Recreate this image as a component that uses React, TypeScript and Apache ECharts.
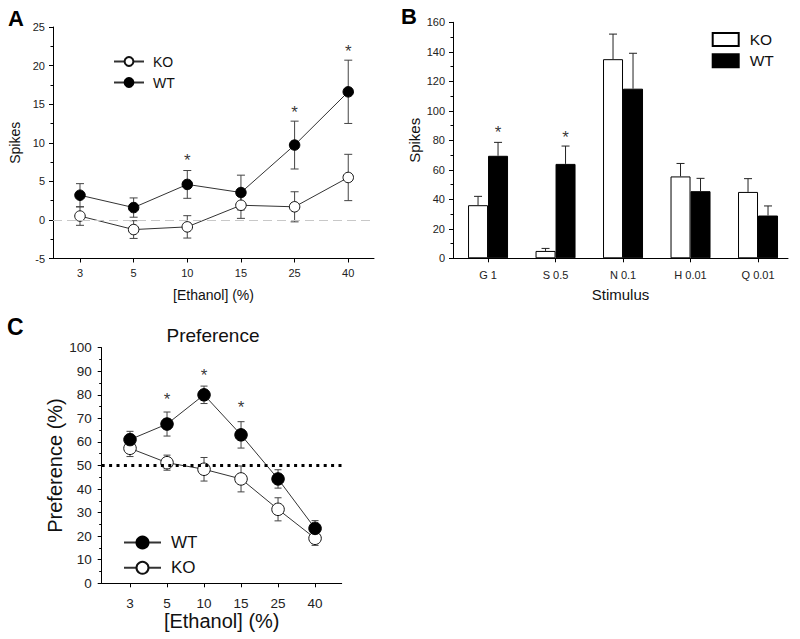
import React, { useEffect, useRef } from "react";
import * as echarts from "echarts";

// ---------- data ----------
const concentrations = ["3", "5", "10", "15", "25", "40"];

// Panel A: spikes vs ethanol
const koSpikes = [0.5, -1.25, -0.9, 1.9, 1.7, 5.5];
const koSpikesSem = [1.2, 1.15, 1.45, 1.7, 1.95, 3.0];
const wtSpikes = [3.2, 1.6, 4.6, 3.55, 9.7, 16.6];
const wtSpikesSem = [1.5, 1.25, 1.8, 2.25, 3.1, 4.1];
const starsAIdx = [2, 4, 5];
const starsAVal = [8.2, 14.5, 22.4];

// Panel B: spikes per stimulus
const stimuli = ["G 1", "S 0.5", "N 0.1", "H 0.01", "Q 0.01"];
const koStim = [36, 5, 135, 55.5, 45];
const koStimSem = [6, 1.7, 17, 8.8, 9];
const wtStim = [69.5, 64, 115, 45.5, 29];
const wtStimSem = [9.1, 12.1, 24, 8.7, 6.5];
const starsBIdx = [0, 1];
const starsBVal = [88, 84.5];

// Panel C: preference
const wtPref = [61, 67.6, 80, 63, 44.3, 23.3];
const wtPrefSem = [3.5, 5.1, 3.7, 5.6, 3.9, 3.3];
const koPref = [57.3, 51.2, 48.4, 44.3, 31.4, 19.1];
const koPrefSem = [3.5, 3.2, 5, 5.5, 4.9, 3];
const starsCIdx = [1, 2, 3];
const starsCVal = [79.6, 90, 76.4];

const FONT = '"Liberation Sans", Arial, Helvetica, sans-serif';

const pts = (vals: number[]) => vals.map((v, i) => [i, v]);
const errRows = (vals: number[], sem: number[]) => vals.map((v, i) => [i, v - sem[i], v + sem[i]]);
const upRows = (vals: number[], sem: number[]) => vals.map((v, i) => [i, v, v + sem[i]]);

function errorBarSeries(name: string, g: number, rows: number[][], dx: number, cap: number, both: boolean, color: string) {
  return {
    name,
    type: "custom",
    xAxisIndex: g,
    yAxisIndex: g,
    z: 2,
    silent: true,
    encode: { x: 0, y: [1, 2] },
    data: rows,
    renderItem: (params: any, api: any) => {
      const x = api.value(0);
      const lo = api.coord([x, api.value(1)]);
      const hi = api.coord([x, api.value(2)]);
      const px = lo[0] + dx;
      const w = cap / 2;
      const st = { stroke: color, lineWidth: 1 };
      const children: any[] = [
        { type: "line", shape: { x1: px, y1: lo[1], x2: px, y2: hi[1] }, style: st },
        { type: "line", shape: { x1: px - w, y1: hi[1], x2: px + w, y2: hi[1] }, style: st },
      ];
      if (both) children.push({ type: "line", shape: { x1: px - w, y1: lo[1], x2: px + w, y2: lo[1] }, style: st });
      return { type: "group", children };
    },
  };
}

function starSeries(name: string, g: number, idx: number[], vals: number[], dx: number) {
  return {
    name,
    type: "scatter",
    xAxisIndex: g,
    yAxisIndex: g,
    z: 5,
    silent: true,
    symbolSize: 1,
    itemStyle: { color: "rgba(0,0,0,0)" },
    data: idx.map((x, i) => [x, vals[i]]),
    label: {
      show: true,
      position: "inside",
      formatter: "*",
      fontSize: 17,
      color: "#000",
      fontFamily: FONT,
      offset: [dx, 4],
    },
  };
}

function xValueAxis(g: number, min: number, max: number, labels: string[], fontSize: number, margin: number, name: string, nameSize: number, nameGap: number) {
  const ticks = labels.map((_, i) => i);
  return {
    gridIndex: g,
    type: "value",
    min,
    max,
    splitLine: { show: false },
    axisLine: { show: true, onZero: false, lineStyle: { color: "#000", width: 1 } },
    axisTick: { show: true, customValues: ticks, length: 4, inside: false, lineStyle: { color: "#000" } },
    axisLabel: {
      customValues: ticks,
      formatter: (v: number) => labels[Math.round(v)] ?? "",
      fontSize,
      margin,
      color: "#222",
      fontFamily: FONT,
    },
    name,
    nameLocation: "middle",
    nameGap,
    nameTextStyle: { fontSize: nameSize, color: "#111", fontFamily: FONT },
  };
}

function yValueAxis(g: number, min: number, max: number, interval: number, fontSize: number, margin: number, name: string, nameSize: number, nameGap: number) {
  return {
    gridIndex: g,
    type: "value",
    min,
    max,
    interval,
    splitLine: { show: false },
    axisLine: { show: true, onZero: false, lineStyle: { color: "#000", width: 1 } },
    axisTick: { show: true, length: 4, inside: false, lineStyle: { color: "#000" } },
    minorTick: { show: true, splitNumber: 2, length: 2.5, lineStyle: { color: "#000" } },
    axisLabel: { fontSize, margin, color: "#222", fontFamily: FONT },
    name,
    nameLocation: "middle",
    nameRotate: 90,
    nameGap,
    nameTextStyle: { fontSize: nameSize, color: "#111", fontFamily: FONT },
  };
}

function lineSeries(name: string, g: number, vals: number[], filled: boolean, size: number, extra: any = {}) {
  return {
    name,
    type: "line",
    xAxisIndex: g,
    yAxisIndex: g,
    z: 3,
    data: pts(vals),
    symbol: "circle",
    symbolSize: size,
    showSymbol: true,
    lineStyle: { color: "#333", width: 1 },
    itemStyle: filled
      ? { color: "#000", borderColor: "#000", borderWidth: 1 }
      : { color: "#fff", borderColor: "#111", borderWidth: 1 },
    ...extra,
  };
}

export default function App() {
  const ref = useRef<HTMLDivElement>(null);

  useEffect(() => {
    if (!ref.current) return;
    const chart = echarts.init(ref.current, undefined, { renderer: "svg" });
    const legendFmt = (n: string) => n.split(":")[1];

    const option: any = {
      animation: false,
      backgroundColor: "#fff",
      textStyle: { fontFamily: FONT },
      grid: [
        { left: 53, top: 27, width: 321, height: 231.5 },
        { left: 453, top: 22.3, width: 335, height: 236 },
        { left: 101.7, top: 347.7, width: 240, height: 235.6 },
      ],
      xAxis: [
        xValueAxis(0, -0.503, 5.48, concentrations, 11, 9, "[Ethanol] (%)", 14, 29.5),
        xValueAxis(1, -0.519, 4.444, stimuli, 11, 11, "Stimulus", 15, 29),
        xValueAxis(2, -0.765, 5.72, concentrations, 13.5, 13, "[Ethanol] (%)", 20, 26.5),
      ],
      yAxis: [
        yValueAxis(0, -5, 25, 5, 11, 8, "Spikes", 14, 31),
        yValueAxis(1, 0, 160, 20, 11, 8, "Spikes", 15, 31),
        yValueAxis(2, 0, 100, 10, 13.5, 10, "Preference (%)", 20, 34),
      ],
      legend: [
        {
          data: ["A:KO", "A:WT"],
          formatter: legendFmt,
          orient: "vertical",
          left: 108,
          top: 49.5,
          itemWidth: 30,
          itemHeight: 11,
          itemGap: 7,
          selectedMode: false,
          textStyle: { fontSize: 14, color: "#111", padding: [0, 0, 0, 4] },
        },
        {
          data: ["B:KO", "B:WT"],
          formatter: legendFmt,
          orient: "vertical",
          left: 706.7,
          top: 26.5,
          itemWidth: 26,
          itemHeight: 13,
          itemGap: 5.3,
          icon: "rect",
          selectedMode: false,
          textStyle: { fontSize: 15.5, color: "#111", padding: [0, 0, 0, 6] },
        },
        {
          data: ["C:WT", "C:KO"],
          formatter: legendFmt,
          orient: "vertical",
          left: 118,
          top: 529,
          itemWidth: 37,
          itemHeight: 15,
          itemGap: 8.3,
          selectedMode: false,
          textStyle: { fontSize: 17, color: "#111", padding: [0, 0, 0, 5] },
        },
      ],
      graphic: [
        { type: "text", x: 8, y: 7, style: { text: "A", fontSize: 22, fontWeight: "bold", fontFamily: FONT, fill: "#000" } },
        { type: "text", x: 401, y: 5, style: { text: "B", fontSize: 22, fontWeight: "bold", fontFamily: FONT, fill: "#000" } },
        { type: "text", x: 7, y: 315, style: { text: "C", fontSize: 23, fontWeight: "bold", fontFamily: FONT, fill: "#000" } },
        {
          type: "text",
          x: 213,
          y: 335,
          style: { text: "Preference", fontSize: 19, fontFamily: FONT, fill: "#111", align: "center", verticalAlign: "middle", textAlign: "center", textVerticalAlign: "middle" },
        },
      ],
      series: [
        // ---- Panel A ----
        {
          ...errorBarSeries("A:koErr", 0, errRows(koSpikes, koSpikesSem), 0, 8, true, "#444"),
          markLine: {
            silent: true,
            symbol: "none",
            label: { show: false },
            lineStyle: { color: "#c8c8c8", type: [9, 5], width: 1 },
            data: [{ yAxis: 0 }],
          },
        },
        errorBarSeries("A:wtErr", 0, errRows(wtSpikes, wtSpikesSem), 0, 8, true, "#444"),
        lineSeries("A:KO", 0, koSpikes, false, 10.5),
        lineSeries("A:WT", 0, wtSpikes, true, 10.5),
        starSeries("A:stars", 0, starsAIdx, starsAVal, 0),

        // ---- Panel B ----
        {
          name: "B:KO",
          type: "bar",
          xAxisIndex: 1,
          yAxisIndex: 1,
          data: pts(koStim),
          barWidth: 20,
          barGap: "0%",
          itemStyle: { color: "#fff", borderColor: "#000", borderWidth: 1 },
        },
        {
          name: "B:WT",
          type: "bar",
          xAxisIndex: 1,
          yAxisIndex: 1,
          data: pts(wtStim),
          barWidth: 20,
          barGap: "0%",
          itemStyle: { color: "#000", borderColor: "#000", borderWidth: 1 },
        },
        { ...errorBarSeries("B:koErr", 1, upRows(koStim, koStimSem), -10, 8, false, "#222"), z: 4 },
        { ...errorBarSeries("B:wtErr", 1, upRows(wtStim, wtStimSem), 10, 8, false, "#222"), z: 4 },
        starSeries("B:stars", 1, starsBIdx, starsBVal, 10),

        // ---- Panel C ----
        {
          ...errorBarSeries("C:koErr", 2, errRows(koPref, koPrefSem), 0, 7, true, "#444"),
          markLine: {
            silent: true,
            symbol: "none",
            label: { show: false },
            lineStyle: { color: "#000", type: [3, 4.4], width: 3 },
            data: [{ yAxis: 50 }],
          },
        },
        errorBarSeries("C:wtErr", 2, errRows(wtPref, wtPrefSem), 0, 7, true, "#444"),
        lineSeries("C:KO", 2, koPref, false, 12.5),
        lineSeries("C:WT", 2, wtPref, true, 12.5),
        starSeries("C:stars", 2, starsCIdx, starsCVal, 0),
      ],
    };

    chart.setOption(option);
    return () => chart.dispose();
  }, []);

  return (
    <div
      ref={ref}
      style={{ position: "absolute", left: 0, top: 0, width: 800, height: 639, background: "#fff" }}
    />
  );
}
